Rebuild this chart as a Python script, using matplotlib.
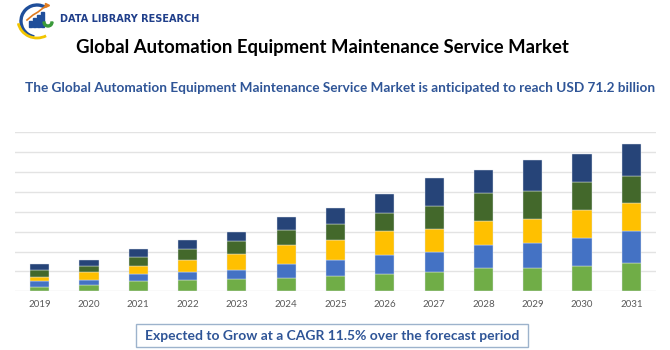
import numpy as np
import matplotlib
matplotlib.use("Agg")
import matplotlib.pyplot as plt
from matplotlib.patches import Rectangle, Arc, Wedge

years = ['2019', '2020', '2021', '2022', '2023', '2024', '2025',
         '2026', '2027', '2028', '2029', '2030', '2031']

# stacked segments, bottom to top
seg1 = [2.4, 3.0, 5.0, 5.7, 6.4, 6.9, 7.9, 8.7, 9.9, 11.7, 11.9, 12.9, 14.1]
seg2 = [3.0, 2.7, 3.5, 4.0, 4.5, 6.9, 7.9, 9.6, 9.9, 11.7, 12.2, 13.9, 16.0]
seg3 = [2.0, 4.0, 4.2, 6.0, 8.1, 9.7, 10.1, 12.2, 11.4, 12.2, 12.4, 14.1, 14.1]
seg4 = [3.2, 2.9, 4.7, 5.5, 6.5, 7.4, 8.1, 8.9, 11.7, 13.7, 13.9, 14.2, 13.9]
seg5 = [2.9, 2.9, 3.7, 4.4, 4.4, 6.5, 7.7, 9.6, 14.1, 11.9, 15.6, 14.1, 15.8]

colors = ['#70AD47', '#4472C4', '#FFC000', '#43682B', '#264478']

title = 'Global Automation Equipment Maintenance Service Market'
subtitle = ('The Global Automation Equipment Maintenance Service Market '
            'is anticipated to reach USD 71.2 billion')
footer = 'Expected to Grow at a CAGR 11.5% over the forecast period'

plt.rcParams['font.family'] = ['Lato', 'DejaVu Sans']

fig = plt.figure(figsize=(6.7, 3.5), dpi=100)
ax = fig.add_axes([15/670, 1-291.3/350, 641/670, 159/350])

x = np.arange(len(years))
bottom = np.zeros(len(years))
for vals, c in zip([seg1, seg2, seg3, seg4, seg5], colors):
    ax.bar(x, vals, 0.39, bottom=bottom, color=c, edgecolor='#dfe6f0',
           linewidth=0.3, zorder=3)
    bottom += np.array(vals)

ax.set_xlim(-0.5, 12.5)
ax.set_ylim(0, 80)
ax.set_yticks(np.arange(0, 81, 10))
ax.set_yticklabels([])
ax.tick_params(axis='y', length=0)
ax.tick_params(axis='x', length=0, pad=6, labelsize=7, labelcolor='#595959')
ax.set_xticks(x)
ax.set_xticklabels(years)
ax.grid(axis='y', color='#e3e3e3', linewidth=1, zorder=0)
for s in ax.spines.values():
    s.set_visible(False)

# header
fig.text(0.481, 1-48/350, title, ha='center', va='center', fontsize=13.3,
         fontweight='bold', color='black')
fig.text(0.508, 1-88/350, subtitle, ha='center', va='center', fontsize=9.8,
         fontweight='bold', color='#2F5597')

# logo (y axis points down, so 90 deg is the bottom of a circle)
lax = fig.add_axes([0, 1-42/350, 60/670, 42/350])
lax.set_xlim(0, 60)
lax.set_ylim(42, 0)
lax.axis('off')
lax.add_patch(Arc((37, 21), 32, 32, theta1=100, theta2=300, color='#1f4e9a', lw=2.4))
lax.add_patch(Arc((37, 20), 38, 36, theta1=60, theta2=170, color='#f2c500', lw=2.0))
for bx, bh in zip([29, 33, 37, 41], [6, 9, 12, 15]):
    lax.add_patch(Rectangle((bx, 27-bh), 3, bh, color='#1f4e9a'))
lax.plot([27, 33, 38, 47], [20, 15, 12, 5], color='#e07b20', lw=1.2)
lax.plot([47], [5], marker='>', color='#e07b20', ms=3)
lax.add_patch(Wedge((48, 22), 5, 0, 180, color='#3a9a3a', width=2))
fig.text(60/670, 1-19/350, 'DATA LIBRARY RESEARCH', ha='left', va='center',
         fontsize=7, fontweight='bold', color='#1f3e8a',
         family=['Liberation Sans Narrow', 'DejaVu Sans'])

# footer box
fig.patches.append(Rectangle((136/670, 1-346.7/350), 392/670, 22.4/350,
                             transform=fig.transFigure, facecolor='white',
                             edgecolor='#9db3cc', linewidth=1.0))
fig.text(332/670, 1-335.5/350, footer, ha='center', va='center', fontsize=10,
         fontweight='bold', color='#2F5597')

fig.savefig('out.png', dpi=100)
